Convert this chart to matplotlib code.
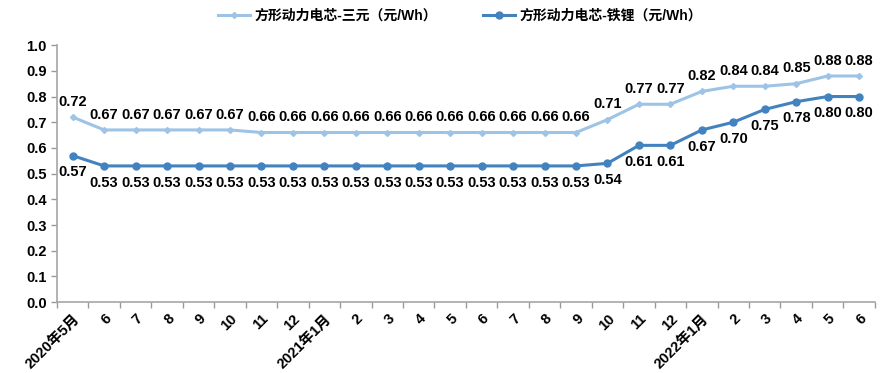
import matplotlib
matplotlib.use("Agg")
import matplotlib.pyplot as plt
import numpy as np

plt.rcParams['font.family'] = ['Liberation Sans', 'Noto Sans CJK SC', 'DejaVu Sans']
plt.rcParams['font.weight'] = 'bold'

# x categories (monthly, 2020-05 .. 2022-06)
months = ["2020年5月", "6", "7", "8", "9", "10", "11", "12",
          "2021年1月", "2", "3", "4", "5", "6", "7", "8", "9", "10", "11", "12",
          "2022年1月", "2", "3", "4", "5", "6"]

ncm = [0.72, 0.67, 0.67, 0.67, 0.67, 0.67, 0.66, 0.66,
       0.66, 0.66, 0.66, 0.66, 0.66, 0.66, 0.66, 0.66, 0.66, 0.71, 0.77, 0.77,
       0.82, 0.84, 0.84, 0.85, 0.88, 0.88]
lfp = [0.57, 0.53, 0.53, 0.53, 0.53, 0.53, 0.53, 0.53,
       0.53, 0.53, 0.53, 0.53, 0.53, 0.53, 0.53, 0.53, 0.53, 0.54, 0.61, 0.61,
       0.67, 0.70, 0.75, 0.78, 0.80, 0.80]

name_ncm = "方形动力电芯-三元（元/Wh）"
name_lfp = "方形动力电芯-铁锂（元/Wh）"

c_light = "#9dc3e6"
c_dark = "#4283bf"
fs = 10.5

fig = plt.figure(figsize=(8.9, 3.73), dpi=100)
ax = fig.add_axes([0.064, 0.19, 0.919, 0.689])

x = np.arange(len(months))
ax.plot(x, ncm, color=c_light, lw=2.2, marker="D", ms=3, label=name_ncm)
ax.plot(x, lfp, color=c_dark, lw=2.2, marker="o", ms=5, label=name_lfp)

for xi, v in zip(x, ncm):
    ax.annotate(f"{v:.2f}", (xi, v), xytext=(0, 6), textcoords="offset points",
                ha="center", va="bottom", fontsize=fs, fontweight="bold")
for xi, v in zip(x, lfp):
    ax.annotate(f"{v:.2f}", (xi, v), xytext=(0, -7), textcoords="offset points",
                ha="center", va="top", fontsize=fs, fontweight="bold")

ax.set_xlim(-0.5, len(months) - 0.5)
ax.set_ylim(0, 1.0)
ax.set_yticks(np.arange(0, 1.01, 0.1))
ax.set_yticklabels([f"{t:.1f}" for t in np.arange(0, 1.01, 0.1)], fontsize=fs, fontweight="bold")

ax.set_xticks(x)
ax.set_xticklabels(months, rotation=45, ha="right", rotation_mode="anchor",
                   fontsize=fs, fontweight="bold")
ax.tick_params(axis="x", length=0, pad=7)
ax.set_xticks(np.arange(-0.5, len(months), 1), minor=True)
ax.tick_params(axis="x", which="minor", length=4, color="#999999", width=1)
ax.tick_params(axis="y", length=4, color="#999999", width=1)

for s in ("top", "right"):
    ax.spines[s].set_visible(False)
for s in ("left", "bottom"):
    ax.spines[s].set_color("#a6a6a6")
    ax.spines[s].set_linewidth(1.2)

fig.legend(loc="upper center", bbox_to_anchor=(0.517, 1.01), ncol=2, frameon=False,
           handlelength=2.3, handletextpad=0.3, columnspacing=3.3,
           prop={"weight": "bold", "size": 10})

fig.savefig("out.png", dpi=100)
